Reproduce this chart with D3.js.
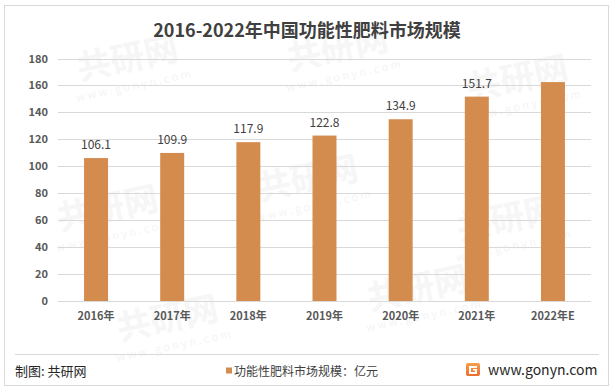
<!DOCTYPE html>
<html>
<head>
<meta charset="utf-8">
<title>2016-2022年中国功能性肥料市场规模</title>
<script src="https://d3js.org/d3.v7.min.js"></script>
<style>
  body { margin: 0; background: #fff; }
  text { font-family: "Noto Sans CJK SC", "Noto Sans", sans-serif; }
</style>
</head>
<body>
<svg id="chart" width="614" height="392"></svg>
<script>
// data
var years = ["2016年", "2017年", "2018年", "2019年", "2020年", "2021年", "2022年E"]
var market = [106.1, 109.9, 117.9, 122.8, 134.9, 151.7, 162.5]
var valueLabels = ["106.1", "109.9", "117.9", "122.8", "134.9", "151.7", ""]
var yTicks = [0, 20, 40, 60, 80, 100, 120, 140, 160, 180]

var svg = d3.select("#chart")

// outer frame
svg.append("rect")
    .attr("x", 4.5).attr("y", 5.5)
    .attr("width", 604).attr("height", 380)
    .attr("fill", "#fff")
    .attr("stroke", "#d9d9d9")

// faint watermarks
var marks = [[130, 70], [340, 60], [520, 90], [110, 220], [310, 190], [510, 230], [170, 330], [420, 300]]
marks.forEach(function (m) {
  var g = svg.append("g").attr("transform", "translate(" + m[0] + "," + m[1] + ") rotate(-12)")
  g.append("text").text("共研网")
    .attr("font-size", 34).attr("font-weight", "bold")
    .attr("fill", "#f6f6f6").attr("text-anchor", "middle")
  g.append("text").text("w w w . g o n y n . c o m").attr("y", 20)
    .attr("font-size", 11).attr("fill", "#f4f4f4").attr("text-anchor", "middle")
})

// title
svg.append("text")
    .attr("x", 307).attr("y", 37)
    .attr("text-anchor", "middle")
    .attr("font-size", 18).attr("font-weight", "bold")
    .attr("fill", "#404040")
    .text("2016-2022年中国功能性肥料市场规模")

var x = d3.scaleBand().domain(years).range([58, 591]).paddingInner(0.685).paddingOuter(0.342)
var y = d3.scaleLinear().domain([0, 180]).range([301, 58.5])

// gridlines
svg.append("g")
  .selectAll("line")
  .data(yTicks)
  .enter().append("line")
    .attr("x1", 58).attr("x2", 591)
    .attr("y1", function (d) { return Math.round(y(d)) + 0.5 })
    .attr("y2", function (d) { return Math.round(y(d)) + 0.5 })
    .attr("stroke", "#d9d9d9")

// y axis labels
var yAxis = svg.append("g")
    .attr("transform", "translate(48,0)")
    .call(d3.axisLeft(y).tickValues(yTicks).tickSize(0).tickPadding(0))
yAxis.select(".domain").remove()
yAxis.selectAll("text")
    .attr("font-family", "'Noto Sans CJK SC', sans-serif")
    .attr("font-size", 11).attr("font-weight", "bold")
    .attr("fill", "#595959")

// bars
svg.append("g")
  .selectAll("rect")
  .data(market)
  .enter().append("rect")
    .attr("x", function (d, i) { return x(years[i]) })
    .attr("y", function (d) { return y(d) })
    .attr("width", x.bandwidth())
    .attr("height", function (d) { return y(0) - y(d) })
    .attr("fill", "#d48c4e")

// value labels
svg.append("g")
  .selectAll("text")
  .data(market)
  .enter().append("text")
    .attr("x", function (d, i) { return x(years[i]) + x.bandwidth() / 2 })
    .attr("y", function (d) { return y(d) - 9 })
    .attr("text-anchor", "middle")
    .attr("font-size", 12)
    .attr("fill", "#404040")
    .text(function (d, i) { return valueLabels[i] })

// x axis labels
var xAxis = svg.append("g")
    .attr("transform", "translate(0,312)")
    .call(d3.axisBottom(x).tickSize(0).tickPadding(0))
xAxis.select(".domain").remove()
xAxis.selectAll("text")
    .attr("font-family", "'Noto Sans CJK SC', sans-serif")
    .attr("font-size", 11).attr("font-weight", "bold")
    .attr("fill", "#595959")

// footer
svg.append("line")
    .attr("x1", 15).attr("x2", 599)
    .attr("y1", 354.5).attr("y2", 354.5)
    .attr("stroke", "#d9d9d9")

svg.append("text")
    .attr("x", 15).attr("y", 376)
    .attr("font-size", 13).attr("fill", "#262626")
    .text("制图: 共研网")

svg.append("rect")
    .attr("x", 226).attr("y", 367.5)
    .attr("width", 6).attr("height", 6)
    .attr("fill", "#d48c4e")
svg.append("text")
    .attr("x", 234).attr("y", 375.5)
    .attr("font-size", 12).attr("fill", "#404040")
    .text("功能性肥料市场规模：亿元")

// logo
var logo = svg.append("g").attr("transform", "translate(466,363)")
var grad = svg.append("defs").append("linearGradient")
    .attr("id", "lg").attr("x1", 0).attr("y1", 0).attr("x2", 0).attr("y2", 1)
grad.append("stop").attr("offset", "0%").attr("stop-color", "#f7a04a")
grad.append("stop").attr("offset", "100%").attr("stop-color", "#ee6a2c")
logo.append("rect").attr("width", 14).attr("height", 13).attr("rx", 2).attr("fill", "url(#lg)")
logo.append("path")
    .attr("d", "M3,3 H11 V5 H5 V9 H9 V7.5 H7 V6 H11 V11 H3 Z")
    .attr("fill", "#fff")

svg.append("text")
    .attr("x", 488).attr("y", 375)
    .attr("font-family", "'Open Sans', 'Noto Sans', sans-serif")
    .attr("font-size", 14).attr("fill", "#262626")
    .text("www.gonyn.com")
</script>
</body>
</html>
